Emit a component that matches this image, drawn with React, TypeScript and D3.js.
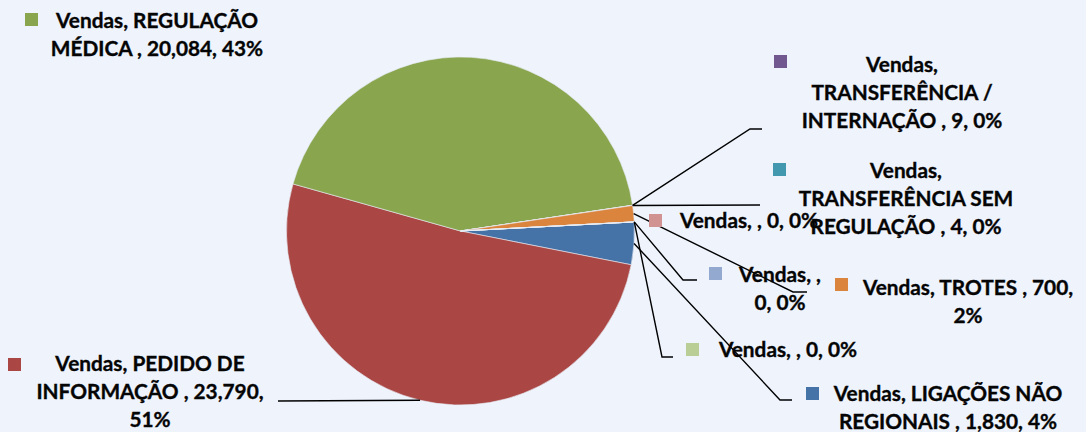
import React from "react";
import * as d3 from "d3";

const seriesName = "Vendas";
const categories = [
  "LIGAÇÕES NÃO REGIONAIS",
  "PEDIDO DE INFORMAÇÃO",
  "REGULAÇÃO MÉDICA",
  "TRANSFERÊNCIA / INTERNAÇÃO",
  "TRANSFERÊNCIA SEM REGULAÇÃO",
  "TROTES",
  "",
  "",
  "",
];
const values = [1830, 23790, 20084, 9, 4, 700, 0, 0, 0];
const colors = ["#4572A7", "#AA4643", "#89A54E", "#71588F", "#4198AF", "#DB843D", "#93A9CF", "#D19392", "#B9CD96"];
const lineWordCounts = [[3, 4], [3, 3, 1], [2, 4], [1, 2, 4], [1, 2, 4], [4, 1], [2, 2], [4], [4]];

// layout of data labels (positions only)
type Lbl = { sq: [number, number]; cx: number; by: number; leader: [number, number][] | null };
const labelLayout: Lbl[] = [
  { sq: [806, 387], cx: 948, by: 401, leader: [[780, 400], [792, 400]] },
  { sq: [8, 358], cx: 150, by: 371, leader: [[278, 401], [278, 401]] },
  { sq: [25, 13], cx: 157, by: 28, leader: null },
  { sq: [774, 55], cx: 902, by: 72, leader: [[750, 129], [762, 129]] },
  { sq: [773, 163], cx: 906, by: 178, leader: [[760, 205], [760, 205]] },
  { sq: [835, 278], cx: 968, by: 295, leader: [[793, 292], [807, 292]] },
  { sq: [709, 267], cx: 780, by: 282, leader: [[683, 280], [697, 280]] },
  { sq: [649, 214], cx: 749, by: 228, leader: null },
  { sq: [686, 343], cx: 788, by: 357, leader: [[662, 357], [673, 357]] },
];

const W = 1086;
const H = 432;
const cx = 460.5;
const cy = 231;
const R = 174;
const startDeg = 87;
const lineH = 28;
const fontSize = 20.8;

export default function App() {
  const total = d3.sum(values);
  const pie = d3
    .pie<number>()
    .sort(null)
    .value((d) => d)
    .startAngle((startDeg * Math.PI) / 180)
    .endAngle((startDeg * Math.PI) / 180 + 2 * Math.PI);
  const arcs = pie(values);
  const arc = d3.arc<d3.PieArcDatum<number>>().innerRadius(0).outerRadius(R);
  const fmtNum = d3.format(",");
  const fmtPct = d3.format(".0%");

  const labelText = (i: number) => {
    const txt = `${seriesName}, ${categories[i]} , ${fmtNum(values[i])}, ${fmtPct(values[i] / total)}`;
    const words = txt.split(/\s+/);
    const lines: string[] = [];
    let k = 0;
    for (const c of lineWordCounts[i]) {
      lines.push(words.slice(k, k + c).join(" "));
      k += c;
    }
    return lines;
  };

  const edgePoint = (a: d3.PieArcDatum<number>): [number, number] => {
    const m = (a.startAngle + a.endAngle) / 2;
    return [cx + R * Math.sin(m), cy - R * Math.cos(m)];
  };

  return (
    <svg width={W} height={H} style={{ position: "absolute", left: 0, top: 0 }}>
      <rect x={0} y={0} width={W} height={H} fill="#EEF3FC" />
      <g transform={`translate(${cx},${cy})`}>
        {arcs.map((a, i) => (
          <path key={i} d={arc(a) || ""} fill={colors[i]} stroke="#E8EDF5" strokeWidth={0.6} />
        ))}
      </g>
      <g fill="none" stroke="#000" strokeWidth={1.4}>
        {arcs.map((a, i) => {
          const L = labelLayout[i];
          if (!L.leader) return null;
          const p0 = edgePoint(a);
          const pts = [p0, ...L.leader];
          return <path key={i} d={d3.line()(pts as [number, number][]) || ""} />;
        })}
      </g>
      <g fontFamily="Lato, 'Noto Sans', sans-serif" fontWeight="bold" fontSize={fontSize} fill="#050505" stroke="#050505" strokeWidth={0.35}>
        {labelLayout.map((L, i) => (
          <g key={i}>
            <rect x={L.sq[0]} y={L.sq[1]} width={13} height={13} fill={colors[i]} stroke="none" />
            <text textAnchor="middle">
              {labelText(i).map((ln, j) => (
                <tspan key={j} x={L.cx} y={L.by + j * lineH}>
                  {ln}
                </tspan>
              ))}
            </text>
          </g>
        ))}
      </g>
    </svg>
  );
}
